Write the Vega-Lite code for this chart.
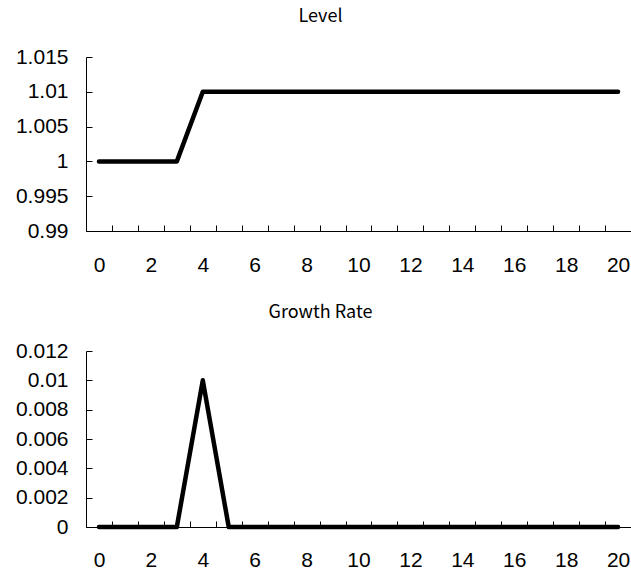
{
  "$schema": "https://vega.github.io/schema/vega-lite/v6.json",
  "background": "white",
  "padding": {"left": 15, "top": 8, "right": 0, "bottom": 0},
  "autosize": {"type": "pad"},
  "datasets": {
    "series": [
      {"t": 0, "level": 1, "growth": 0},
      {"t": 1, "level": 1, "growth": 0},
      {"t": 2, "level": 1, "growth": 0},
      {"t": 3, "level": 1, "growth": 0},
      {"t": 4, "level": 1.01, "growth": 0.01},
      {"t": 5, "level": 1.01, "growth": 0},
      {"t": 6, "level": 1.01, "growth": 0},
      {"t": 7, "level": 1.01, "growth": 0},
      {"t": 8, "level": 1.01, "growth": 0},
      {"t": 9, "level": 1.01, "growth": 0},
      {"t": 10, "level": 1.01, "growth": 0},
      {"t": 11, "level": 1.01, "growth": 0},
      {"t": 12, "level": 1.01, "growth": 0},
      {"t": 13, "level": 1.01, "growth": 0},
      {"t": 14, "level": 1.01, "growth": 0},
      {"t": 15, "level": 1.01, "growth": 0},
      {"t": 16, "level": 1.01, "growth": 0},
      {"t": 17, "level": 1.01, "growth": 0},
      {"t": 18, "level": 1.01, "growth": 0},
      {"t": 19, "level": 1.01, "growth": 0},
      {"t": 20, "level": 1.01, "growth": 0}
    ]
  },
  "config": {
    "view": {"stroke": null},
    "axis": {
      "grid": false,
      "domainColor": "black",
      "tickColor": "black",
      "labelColor": "black",
      "labelFont": "Liberation Sans",
      "labelFontSize": 21,
      "tickSize": -6,
      "title": null,
      "labelFlush": false,
      "labelOverlap": false
    },
    "title": {"font": "Noto Sans CJK JP", "fontSize": 18, "fontWeight": "normal", "color": "black"}
  },
  "spacing": 29,
  "vconcat": [
    {
      "title": {"text": "Level", "dx": -38, "offset": 20},
      "width": 545,
      "height": 174,
      "data": {"name": "series"},
      "mark": {"type": "line", "color": "black", "strokeWidth": 4.5, "strokeCap": "round", "strokeJoin": "round"},
      "encoding": {
        "x": {
          "field": "t", "type": "quantitative",
          "scale": {"domain": [-0.5, 20.5], "nice": false, "zero": false},
          "axis": {
            "values": [-0.5, 0.5, 1.5, 2.5, 3.5, 4.5, 5.5, 6.5, 7.5, 8.5, 9.5, 10.5, 11.5, 12.5, 13.5, 14.5, 15.5, 16.5, 17.5, 18.5, 19.5, 20.5],
            "labelExpr": "(datum.value + 0.5) % 2 == 0 ? format(datum.value + 0.5, 'd') : ''",
            "labelOffset": 13,
            "labelPadding": 29
          }
        },
        "y": {
          "field": "level", "type": "quantitative",
          "scale": {"domain": [0.99, 1.015], "nice": false, "zero": false},
          "axis": {"values": [0.99, 0.995, 1, 1.005, 1.01, 1.015], "format": "~g", "labelPadding": 24}
        }
      }
    },
    {
      "title": {"text": "Growth Rate", "dx": -38, "offset": 18},
      "width": 545,
      "height": 176,
      "data": {"name": "series"},
      "mark": {"type": "line", "color": "black", "strokeWidth": 4.5, "strokeCap": "round", "strokeJoin": "round"},
      "encoding": {
        "x": {
          "field": "t", "type": "quantitative",
          "scale": {"domain": [-0.5, 20.5], "nice": false, "zero": false},
          "axis": {
            "values": [-0.5, 0.5, 1.5, 2.5, 3.5, 4.5, 5.5, 6.5, 7.5, 8.5, 9.5, 10.5, 11.5, 12.5, 13.5, 14.5, 15.5, 16.5, 17.5, 18.5, 19.5, 20.5],
            "labelExpr": "(datum.value + 0.5) % 2 == 0 ? format(datum.value + 0.5, 'd') : ''",
            "labelOffset": 13,
            "labelPadding": 28
          }
        },
        "y": {
          "field": "growth", "type": "quantitative",
          "scale": {"domain": [0, 0.012], "nice": false, "zero": false},
          "axis": {"values": [0, 0.002, 0.004, 0.006, 0.008, 0.01, 0.012], "format": "~g", "labelPadding": 24}
        }
      }
    }
  ]
}
